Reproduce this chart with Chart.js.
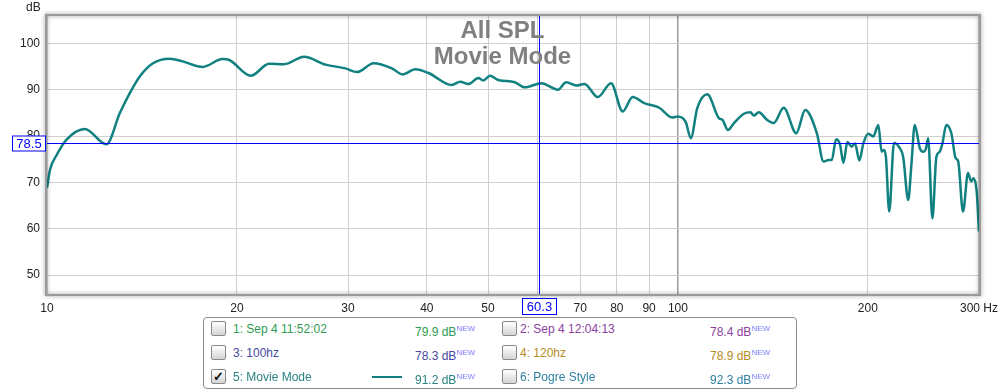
<!DOCTYPE html>
<html>
<head>
<meta charset="utf-8">
<script src="https://cdn.jsdelivr.net/npm/chart.js@4.4.1/dist/chart.umd.min.js"></script>
<style>
  body { margin: 0; background: #fff; font-family: Arial, "Liberation Sans", sans-serif; }
  #wrap { position: relative; width: 1005px; height: 391px; }
  #chart { position: absolute; left: 0; top: 0; }
  .title { position: absolute; left: 0; width: 1005px; text-align: center; font-weight: bold; font-size: 24px; color: #808080; line-height: 26px; }
  #dbLabel { position: absolute; left: 26px; top: 0px; font-size: 12px; color: #222; }
  #legend { position: absolute; left: 203px; top: 317px; width: 592px; height: 70px; border: 1px solid #8c8c8c; border-radius: 4px; font-size: 12px; background: #fff; }
  .cb { position: absolute; width: 13px; height: 13px; border: 1px solid #8a8a8a; border-radius: 2px; background: linear-gradient(#ffffff, #d4d4d4); font-size: 13px; line-height: 13px; text-align: center; font-weight: bold; color: #111; }
  .txt { position: absolute; line-height: 16px; white-space: nowrap; }
  .txt sup { font-size: 8px; color: #8080ff; vertical-align: 5px; }
  .sample { position: absolute; width: 30px; height: 2px; }
</style>
</head>
<body>
<div id="wrap">
  <canvas id="chart" width="1005" height="391"></canvas>
  <div class="title" style="top:17px">All SPL</div>
  <div class="title" style="top:43px">Movie Mode</div>
  <div id="dbLabel">dB</div>
  <div id="legend"></div>
</div>
<script>
// Measured response (Hz / dB)
const freqHz = [10, 10.11, 10.36, 10.74, 11.48, 12.42, 13.04, 13.52, 14.02, 14.72,
  15.64, 16.41, 17.65, 18.98, 19.45, 21.04, 22.49, 23.75, 25.55, 27.64,
  29.72, 31.0, 32.94, 35.21, 36.61, 38.34, 40.24, 43.8, 45.16, 46.54,
  48.26, 49.14, 50.35, 51.9, 55.14, 57.18, 60.74, 64.53, 66.51, 68.97,
  71.11, 74.64, 78.33, 81.74, 84.76, 88.44, 93.4, 98.02, 99.82, 102.9,
  104.8, 107.3, 111.3, 116.2, 117.6, 120.0, 122.7, 127.2, 130.3, 131.9,
  134.3, 138.4, 141.8, 147.1, 154.0, 159.1, 166.0, 170.1, 173.2, 175.3,
  178.1, 180.7, 182.9, 185.6, 188.5, 190.8, 193.9, 196.7, 200.3, 204.0,
  207.8, 210.3, 212.0, 213.6, 216.2, 220.0, 224.7, 227.5, 231.7, 234.5,
  237.3, 241.7, 244.7, 247.0, 249.2, 253.1, 256.8, 259.9, 262.5, 266.3,
  271.2, 275.5, 278.0, 283.0, 288.2, 291.6, 294.1, 297.5, 300];
const splDb = [68.8, 72.7, 75.9, 79.2, 81.5, 78.2, 84.9, 89.2, 92.8, 95.7,
  96.7, 96.1, 94.9, 96.6, 96.4, 93.0, 95.6, 95.5, 97.1, 95.4,
  94.6, 93.8, 95.7, 94.6, 93.3, 94.4, 93.6, 91.0, 91.7, 91.2,
  92.5, 92.0, 93.0, 92.1, 91.6, 90.5, 91.4, 90.0, 91.6, 90.9,
  91.25, 88.4, 91.4, 85.3, 88.4, 87.1, 86.1, 84.0, 84.2, 83.0,
  79.5, 86.0, 89.0, 83.8, 83.5, 81.3, 82.8, 84.8, 85.1, 84.4,
  85.1, 83.5, 82.8, 86.1, 80.6, 85.6, 80.6, 74.5, 74.8, 74.8,
  79.3, 78.1, 74.2, 78.7, 77.7, 78.4, 74.7, 78.4, 80.5, 79.9,
  82.4, 76.6, 77.0, 75.5, 63.7, 78.5, 77.4, 75.5, 66.2, 74.1,
  82.4, 77.4, 76.6, 77.1, 79.5, 62.2, 75.5, 76.6, 78.4, 82.4,
  80.6, 75.2, 74.6, 63.7, 72.0, 70.2, 70.9, 68.0, 59.4];

const xTicks = [10, 20, 30, 40, 50, 60, 70, 80, 90, 100, 200, 300];
const xTickLabels = ['10', '20', '30', '40', '50', '', '70', '80', '90', '100', '200', '300 Hz'];
const yTicks = [50, 60, 70, 80, 90, 100];

const cursorHz = 60.3;
const cursorDb = 78.5;

// legend entries
const legendNames = ['1: Sep 4 11:52:02', '2: Sep 4 12:04:13', '3: 100hz', '4: 120hz', '5: Movie Mode', '6: Pogre Style'];
const legendValues = ['79.9 dB', '78.4 dB', '78.3 dB', '78.9 dB', '91.2 dB', '92.3 dB'];
const legendColors = ['#2e9c52', '#8b41a0', '#47479e', '#b48c1e', '#2a8282', '#2f80a0'];
const legendChecked = [false, false, false, false, true, false];

const lineColor = '#118080';
const cursorColor = '#0000ff';

// build legend
const legend = document.getElementById('legend');
legendNames.forEach((name, i) => {
  const col = i % 2, row = Math.floor(i / 2);
  const cy = 11 + row * 24;
  const cbX = col === 0 ? 7 : 298;
  const txtX = col === 0 ? 29 : 316;
  const valX = col === 0 ? 211 : 506;
  const cb = document.createElement('div');
  cb.className = 'cb';
  cb.style.left = cbX + 'px';
  cb.style.top = (cy - 8) + 'px';
  if (legendChecked[i]) cb.textContent = '\u2713';
  legend.appendChild(cb);
  const t = document.createElement('div');
  t.className = 'txt';
  t.style.left = txtX + 'px';
  t.style.top = (cy - 8) + 'px';
  t.style.color = legendColors[i];
  t.textContent = name;
  legend.appendChild(t);
  const v = document.createElement('div');
  v.className = 'txt';
  v.style.left = valX + 'px';
  v.style.top = (cy - 8) + 'px';
  v.style.color = legendColors[i];
  v.innerHTML = legendValues[i] + '<sup>NEW</sup>';
  legend.appendChild(v);
  if (legendChecked[i]) {
    const s = document.createElement('div');
    s.className = 'sample';
    s.style.left = (txtX + 139) + 'px';
    s.style.top = (cy - 1) + 'px';
    s.style.background = lineColor;
    legend.appendChild(s);
  }
});

// frame, cursors and cursor boxes
const overlay = {
  id: 'overlay',
  beforeDraw(chart) {
    const ctx = chart.ctx;
    ctx.save();
    ctx.fillStyle = '#fff';
    ctx.fillRect(0, 0, chart.width, chart.height);
    ctx.restore();
  },
  afterDatasetsDraw(chart) {
    const { ctx, chartArea: a, scales: { x, y } } = chart;
    ctx.save();
    ctx.shadowColor = 'rgba(0,0,0,0.45)';
    ctx.shadowBlur = 4;
    ctx.strokeStyle = '#9a9a9a';
    ctx.lineWidth = 2;
    ctx.strokeRect(a.left - 1, a.top - 1, a.width + 2, a.height + 2);
    ctx.restore();

    const cx = Math.round(x.getPixelForValue(cursorHz)) + 0.5;
    const cy = Math.round(y.getPixelForValue(cursorDb)) + 0.5;
    ctx.save();
    ctx.strokeStyle = cursorColor;
    ctx.lineWidth = 1;
    ctx.beginPath();
    ctx.moveTo(cx, a.top);
    ctx.lineTo(cx, a.bottom);
    ctx.moveTo(a.left, cy);
    ctx.lineTo(a.right, cy);
    ctx.stroke();

    ctx.font = '13px Arial, "Liberation Sans", sans-serif';
    ctx.textAlign = 'center';
    ctx.textBaseline = 'middle';
    // y cursor box
    ctx.fillStyle = '#fff';
    ctx.fillRect(12.5, cy - 7.5, 33, 15);
    ctx.strokeRect(12.5, cy - 7.5, 33, 15);
    ctx.fillStyle = cursorColor;
    ctx.fillText(cursorDb.toFixed(1), 29, cy + 0.5);
    // x cursor box
    ctx.fillStyle = '#fff';
    ctx.fillRect(cx - 17, a.bottom + 4.5, 34, 16);
    ctx.strokeRect(cx - 17, a.bottom + 4.5, 34, 16);
    ctx.fillStyle = cursorColor;
    ctx.fillText(cursorHz.toFixed(1), cx, a.bottom + 13);
    ctx.restore();
  }
};

new Chart(document.getElementById('chart'), {
  type: 'line',
  data: {
    datasets: [{
      data: freqHz.map((f, i) => ({ x: f, y: splDb[i] })),
      borderColor: lineColor,
      borderWidth: 2.5,
      pointRadius: 0,
      fill: false,
      cubicInterpolationMode: 'monotone'
    }]
  },
  options: {
    responsive: false,
    animation: false,
    devicePixelRatio: 1,
    layout: { padding: { left: 0, right: 23, top: 16, bottom: 0 } },
    plugins: { legend: { display: false }, tooltip: { enabled: false } },
    scales: {
      x: {
        type: 'logarithmic',
        min: 10,
        max: 300,
        afterBuildTicks: s => { s.ticks = xTicks.map(v => ({ value: v })); },
        afterFit: s => { s.height = 97; },
        border: { display: false },
        grid: {
          drawTicks: false,
          color: c => (c.tick && c.tick.value === 100) ? '#9c9c9c' : '#cfcfcf',
          lineWidth: c => (c.tick && c.tick.value === 100) ? 1.5 : 1
        },
        ticks: {
          autoSkip: false,
          maxRotation: 0,
          padding: 7,
          color: '#222',
          font: { family: 'Arial, "Liberation Sans", sans-serif', size: 12 },
          callback: v => xTickLabels[xTicks.indexOf(v)]
        }
      },
      y: {
        min: 45.9,
        max: 105.9,
        afterBuildTicks: s => { s.ticks = yTicks.map(v => ({ value: v })); },
        afterFit: s => { s.width = 47; },
        border: { display: false },
        grid: { drawTicks: false, color: '#cfcfcf' },
        ticks: {
          padding: 7,
          color: '#222',
          font: { family: 'Arial, "Liberation Sans", sans-serif', size: 12 }
        }
      }
    }
  },
  plugins: [overlay]
});
</script>
</body>
</html>
